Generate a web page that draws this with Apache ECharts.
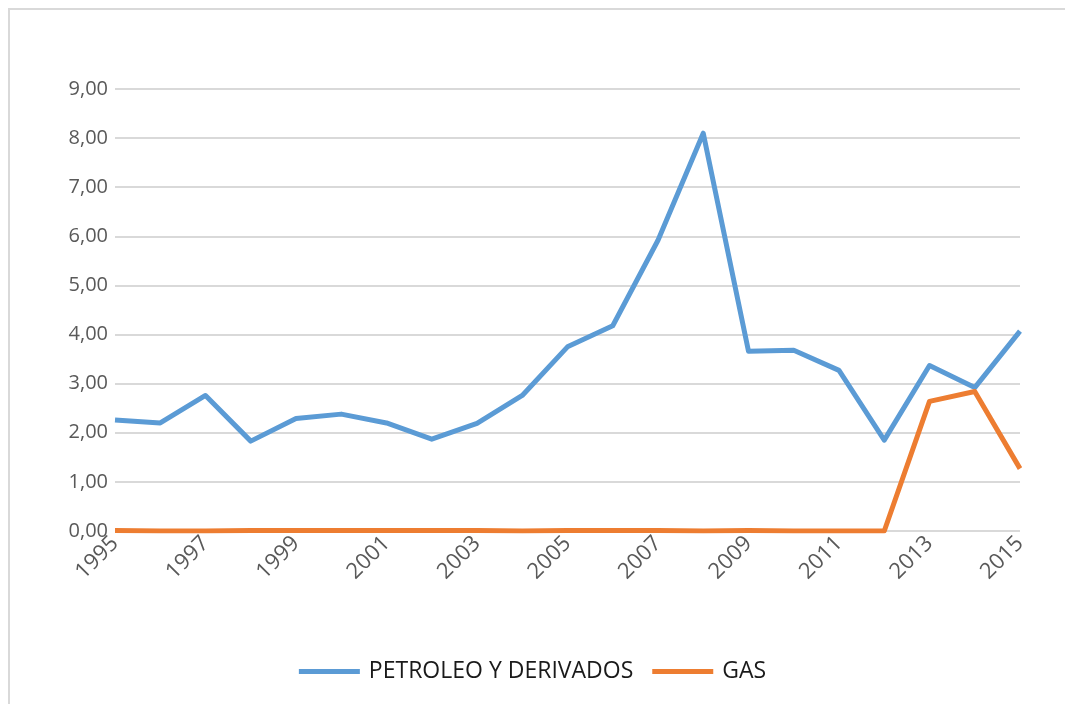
<!DOCTYPE html>
<html>
<head>
<meta charset="utf-8">
<script src="https://cdn.jsdelivr.net/npm/echarts@6/dist/echarts.min.js"></script>
<style>
  html, body { margin: 0; padding: 0; background: #fff; overflow: hidden; }
  #frame { position: absolute; left: 8px; top: 8px; width: 1100px; height: 720px; border-left: 2px solid #d9d9d9; border-top: 2px solid #d9d9d9; box-sizing: border-box; }
  #chart { position: absolute; left: 0; top: 0; width: 1065px; height: 704px; }
</style>
</head>
<body>
<div id="frame"></div>
<div id="chart"></div>
<script>
  var years = ['1995','1996','1997','1998','1999','2000','2001','2002','2003','2004',
               '2005','2006','2007','2008','2009','2010','2011','2012','2013','2014','2015'];
  // PETROLEO Y DERIVADOS
  var petroleo = [2.26, 2.20, 2.76, 1.83, 2.29, 2.38, 2.20, 1.87, 2.19, 2.76,
                  3.75, 4.18, 5.92, 8.10, 3.66, 3.68, 3.27, 1.85, 3.37, 2.92, 4.07];
  // GAS
  var gas = [0.01, 0.00, 0.00, 0.01, 0.01, 0.01, 0.01, 0.01, 0.01, 0.00,
             0.01, 0.01, 0.01, 0.00, 0.01, 0.00, 0.00, 0.00, 2.64, 2.84, 1.27];

  var chart = echarts.init(document.getElementById('chart'));
  var option = {
    animation: false,
    color: ['#5B9BD5', '#ED7D31'],
    grid: { left: 115, right: 45, top: 89, bottom: 173 },
    legend: {
      bottom: 16,
      left: 'center',
      itemWidth: 61,
      itemHeight: 5,
      itemGap: 19,
      icon: 'rect',
      textStyle: { fontFamily: 'Open Sans', fontSize: 23, color: '#1a1a1a', padding: [0, 0, 0, 4] },
      data: ['PETROLEO Y DERIVADOS', 'GAS']
    },
    xAxis: {
      type: 'category',
      boundaryGap: false,
      data: years,
      axisLine: { show: false },
      axisTick: { show: false },
      axisLabel: {
        interval: 1,
        rotate: 45,
        margin: 9,
        fontFamily: 'Open Sans',
        fontSize: 22,
        color: '#595959'
      }
    },
    yAxis: {
      type: 'value',
      min: 0,
      max: 9,
      interval: 1,
      axisLine: { show: false },
      axisTick: { show: false },
      splitLine: { lineStyle: { color: '#d9d9d9', width: 2 } },
      axisLabel: {
        margin: 7,
        fontFamily: 'Open Sans',
        fontSize: 20,
        color: '#595959',
        formatter: function (v) { return v.toFixed(2).replace('.', ','); }
      }
    },
    series: [
      {
        name: 'PETROLEO Y DERIVADOS',
        type: 'line',
        data: petroleo,
        symbol: 'none',
        lineStyle: { width: 5, join: 'round' }
      },
      {
        name: 'GAS',
        type: 'line',
        data: gas,
        symbol: 'none',
        lineStyle: { width: 5, join: 'round' }
      }
    ]
  };
  chart.setOption(option);
</script>
</body>
</html>
